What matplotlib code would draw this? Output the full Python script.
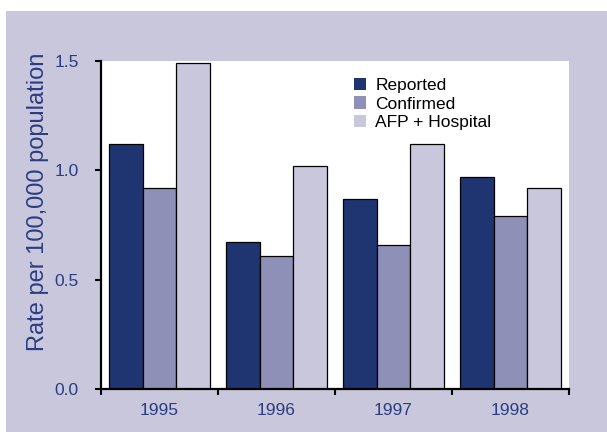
import numpy as np
import matplotlib.pyplot as plt
from matplotlib.patches import Rectangle

years = ["1995", "1996", "1997", "1998"]
reported = [1.12, 0.67, 0.87, 0.97]
confirmed = [0.92, 0.61, 0.66, 0.79]
afp_hospital = [1.49, 1.02, 1.12, 0.92]

series = ["Reported", "Confirmed", "AFP + Hospital"]
colors = ["#1f3571", "#8e90b8", "#c8c7dc"]
text_color = "#2b3c82"

plt.rcParams["font.family"] = ["Liberation Sans", "DejaVu Sans"]

fig = plt.figure(figsize=(6.07, 4.32), dpi=100)
fig.patch.set_facecolor("white")
fig.patches.append(Rectangle((6 / 607, 0), 1, (432 - 11) / 432,
                             transform=fig.transFigure, facecolor="#c8c7dc",
                             edgecolor="none", zorder=-10))

ax = fig.add_axes([101 / 607, 43 / 432, 468 / 607, 328 / 432])
ax.set_zorder(1)
ax.set_facecolor("white")

x = np.arange(len(years)) + 0.5
w = 0.285
for i, (vals, lab) in enumerate(zip([reported, confirmed, afp_hospital], series)):
    ax.bar(x + (i - 1) * w, vals, width=w, color=colors[i], edgecolor="black",
           linewidth=0.9, label=lab)

ax.set_xlim(0, 4)
ax.set_ylim(0, 1.5)
ax.set_yticks([0, 0.5, 1.0, 1.5])
ax.set_yticklabels(["0.0", "0.5", "1.0", "1.5"])
ax.set_xticks([0, 1, 2, 3, 4])
ax.set_xticklabels([])
ax.set_xticks(x, minor=True)
ax.set_xticklabels(years, minor=True)
ax.tick_params(axis="x", which="minor", length=0, pad=10, labelsize=12.5, labelcolor=text_color)
ax.tick_params(axis="x", which="major", length=4, width=1.5, direction="out")
ax.tick_params(axis="y", length=4, width=1.5, direction="out", labelsize=12.5,
               labelcolor=text_color, pad=12)

for s in ["top", "right"]:
    ax.spines[s].set_visible(False)
for s in ["left", "bottom"]:
    ax.spines[s].set_linewidth(1.6)

ax.legend(loc="upper left", bbox_to_anchor=(0.525, 0.97), frameon=False,
          fontsize=12.5, handlelength=0.7, handleheight=0.7, handletextpad=0.55,
          labelspacing=0.2, borderaxespad=0)
for h in ax.get_legend().legend_handles:
    h.set_edgecolor("none")

fig.text(38 / 607, (432 - 202) / 432, "Rate per 100,000 population", rotation=90,
         ha="center", va="center", fontsize=17, color=text_color)

fig.savefig("out.png", dpi=100)
